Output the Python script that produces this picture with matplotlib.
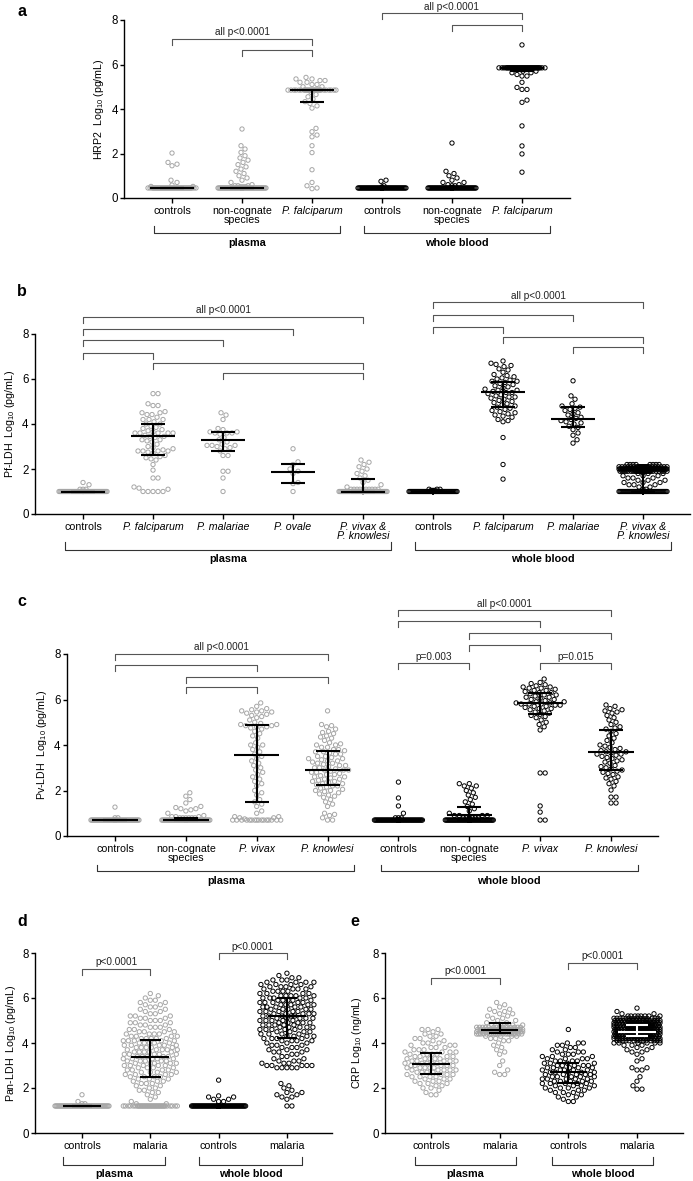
import numpy as np
import matplotlib
matplotlib.use('Agg')
import matplotlib.pyplot as plt

plt.rcParams['font.family'] = ['Liberation Sans', 'DejaVu Sans']
plt.rcParams['mathtext.fontset'] = 'custom'
plt.rcParams['mathtext.rm'] = 'Liberation Sans'
plt.rcParams['mathtext.it'] = 'Liberation Sans:italic'
plt.rcParams['mathtext.bf'] = 'Liberation Sans:bold'

# ---------------------------------------------------------------- data
# each group: levels (log10 values) and counts of points at each level
# ---- panel a : HRP2
a_labels = ['controls', 'non-cognate\nspecies', 'P. falciparum'] * 2
a_pl_ctrl_y = [0.45, 0.52, 0.58, 0.7, 0.8, 1.45, 1.52, 1.6, 2.02]
a_pl_ctrl_n = [45, 2, 1, 1, 1, 1, 1, 1, 1]
a_pl_nc_y = [0.45, 0.5, 0.55, 0.6, 0.7, 0.8, 0.9, 1.0, 1.1, 1.2, 1.3, 1.4, 1.5, 1.6, 1.7, 1.8, 1.9, 2.05, 2.2,
             2.35, 3.1]
a_pl_nc_n = [150, 4, 3, 1, 1, 1, 1, 1, 1, 1, 1, 1, 1, 1, 1, 1, 1, 1, 1, 1, 1]
a_pl_pf_y = [0.42, 0.45, 0.55, 0.7, 1.27, 2.04, 2.35, 2.75, 2.83, 2.98, 3.13, 4.04, 4.14, 4.25, 4.33, 4.45, 4.55,
             4.65, 4.75, 4.85, 5.0, 5.1, 5.2, 5.28, 5.35, 5.42]
a_pl_pf_n = [1, 1, 1, 1, 1, 1, 1, 1, 1, 1, 1, 1, 1, 1, 1, 1, 1, 1, 1, 30, 2, 2, 2, 2, 2, 1]
a_wb_ctrl_y = [0.45, 0.5, 0.55, 0.75, 0.8]
a_wb_ctrl_n = [70, 1, 1, 1, 1]
a_wb_nc_y = [0.45, 0.55, 0.6, 0.7, 0.8, 0.9, 1.0, 1.1, 1.2, 2.47]
a_wb_nc_n = [100, 2, 2, 2, 1, 1, 1, 1, 1, 1]
a_wb_pf_y = [1.16, 1.98, 2.34, 3.24, 4.3, 4.4, 4.88, 4.97, 5.2, 5.48, 5.55, 5.63, 5.7, 5.85, 6.88]
a_wb_pf_n = [1, 1, 1, 1, 1, 1, 2, 1, 1, 2, 1, 2, 2, 40, 1]
a_med = [0.45, 0.45, 4.85, 0.45, 0.45, 5.85]
a_q1 = [0.45, 0.45, 4.33, 0.45, 0.45, 5.70]
a_q3 = [0.45, 0.45, 4.85, 0.45, 0.45, 5.85]

# ---- panel b : Pf-LDH
b_labels = ['controls', 'P. falciparum', 'P. malariae', 'P. ovale', 'P. vivax &\nP. knowlesi',
            'controls', 'P. falciparum', 'P. malariae', 'P. vivax &\nP. knowlesi']
b_pl_ctrl_y = [1.0, 1.1, 1.3, 1.4]
b_pl_ctrl_n = [50, 3, 1, 1]
b_pl_pf = [5.35, 5.35, 4.9, 4.82, 4.82, 4.55, 4.5, 4.5, 4.42, 4.42, 4.3, 4.2, 4.2, 4.2, 4.1, 4.0, 4.0, 3.9, 3.85,
           3.8, 3.75, 3.7, 3.65, 3.6, 3.6, 3.6, 3.6, 3.6, 3.5, 3.45, 3.45, 3.4, 3.3, 3.3, 3.25, 3.2, 3.1, 3.0,
           2.95, 2.9, 2.85, 2.8, 2.8, 2.8, 2.8, 2.75, 2.7, 2.6, 2.55, 2.5, 2.45, 2.4, 2.2, 1.95, 1.6, 1.6, 1.2,
           1.15, 1.1, 1.0, 1.0, 1.0, 1.0, 1.0]
b_pl_pm = [4.5, 4.4, 4.2, 3.8, 3.75, 3.65, 3.65, 3.6, 3.6, 3.6, 3.55, 3.4, 3.3, 3.2, 3.1, 3.05, 3.05, 3.05, 3.0,
           2.95, 2.9, 2.8, 2.6, 2.6, 1.9, 1.9, 1.6, 1.0]
b_pl_po = [2.9, 2.32, 2.2, 2.0, 1.9, 1.8, 1.4, 1.35, 1.0]
b_pl_vk_y = [1.0, 1.1, 1.2, 1.3, 1.4, 1.5, 1.6, 1.7, 1.8, 1.9, 2.0, 2.1, 2.2, 2.3, 2.4]
b_pl_vk_n = [130, 10, 1, 1, 1, 1, 1, 1, 1, 1, 1, 1, 1, 1, 1]
b_wb_ctrl_y = [1.0, 1.05, 1.1]
b_wb_ctrl_n = [80, 3, 3]
b_wb_pf = [6.8, 6.7, 6.65, 6.6, 6.55, 6.45, 6.4, 6.3, 6.2, 6.15, 6.1, 6.05, 6.0, 5.95, 5.9, 5.9, 5.85, 5.8, 5.75,
           5.7, 5.65, 5.6, 5.55, 5.5, 5.5, 5.45, 5.4, 5.4, 5.35, 5.3, 5.25, 5.2, 5.2, 5.15, 5.1, 5.05, 5.0, 4.95,
           4.9, 4.85, 4.8, 4.75, 4.7, 4.65, 4.6, 4.55, 4.5, 4.45, 4.4, 4.35, 4.3, 4.2, 4.15, 4.1, 3.4, 2.2, 1.55]
b_wb_pm = [5.92, 5.25, 5.1, 4.9, 4.8, 4.75, 4.7, 4.65, 4.6, 4.5, 4.45, 4.4, 4.3, 4.25, 4.2, 4.15, 4.1, 4.05, 4.0,
           3.9, 3.85, 3.75, 3.6, 3.5, 3.3, 3.15]
b_wb_vk_y = [1.0, 1.1, 1.2, 1.3, 1.4, 1.5, 1.6, 1.7, 1.8, 1.9, 2.0, 2.1, 2.2]
b_wb_vk_n = [100, 2, 2, 3, 3, 3, 3, 3, 3, 30, 50, 25, 8]
b_med = [1.0, 3.47, 3.28, 1.85, 1.0, 1.0, 5.42, 4.22, 1.95]
b_q1 = [1.0, 2.63, 2.80, 1.38, 1.0, 1.0, 4.75, 3.85, 1.0]
b_q3 = [1.0, 4.00, 3.66, 2.22, 1.55, 1.0, 5.87, 4.75, 2.0]

# ---- panel c : Pv-LDH
c_labels = ['controls', 'non-cognate\nspecies', 'P. vivax', 'P. knowlesi'] * 2
c_pl_ctrl_y = [0.7, 0.8, 1.27]
c_pl_ctrl_n = [60, 2, 1]
c_pl_nc_y = [0.7, 0.8, 0.85, 0.9, 1.0, 1.1, 1.15, 1.2, 1.25, 1.3, 1.45, 1.6, 1.75, 1.9]
c_pl_nc_n = [140, 6, 3, 1, 1, 1, 1, 2, 1, 1, 1, 1, 1, 1]
c_pl_pv = [5.85, 5.7, 5.6, 5.55, 5.5, 5.5, 5.45, 5.45, 5.4, 5.35, 5.3, 5.25, 5.2, 5.1, 5.0, 4.95, 4.9, 4.9, 4.85,
           4.85, 4.8, 4.8, 4.75, 4.7, 4.6, 4.5, 4.4, 4.3, 4.1, 4.0, 4.0, 3.9, 3.8, 3.7, 3.6, 3.5, 3.4, 3.3, 3.2,
           3.1, 3.0, 2.9, 2.8, 2.7, 2.6, 2.5, 2.4, 2.3, 2.2, 2.0, 1.9, 1.8, 1.6, 1.5, 1.4, 1.3, 1.1, 1.0, 0.85,
           0.85, 0.8, 0.8, 0.75, 0.7, 0.7, 0.7, 0.7, 0.7, 0.7, 0.7, 0.7, 0.7, 0.7, 0.7, 0.7, 0.7, 0.7, 0.7, 0.7]
c_pl_pk = [5.5, 4.9, 4.85, 4.8, 4.7, 4.6, 4.55, 4.5, 4.4, 4.35, 4.3, 4.2, 4.1, 4.05, 4.0, 4.0, 3.9, 3.9, 3.8, 3.8,
           3.75, 3.7, 3.7, 3.65, 3.6, 3.6, 3.5, 3.5, 3.45, 3.4, 3.4, 3.35, 3.3, 3.3, 3.25, 3.2, 3.2, 3.15, 3.1,
           3.1, 3.05, 3.0, 3.0, 2.95, 2.9, 2.9, 2.9, 2.85, 2.8, 2.8, 2.75, 2.7, 2.7, 2.65, 2.6, 2.6, 2.55, 2.5,
           2.5, 2.45, 2.4, 2.4, 2.35, 2.3, 2.3, 2.25, 2.2, 2.2, 2.15, 2.1, 2.05, 2.0, 2.0, 1.95, 1.9, 1.85, 1.8,
           1.75, 1.7, 1.6, 1.5, 1.4, 1.3, 1.0, 0.95, 0.9, 0.8, 0.7, 0.7]
c_wb_ctrl_y = [0.7, 0.8, 1.0, 1.32, 1.67, 2.37]
c_wb_ctrl_n = [80, 3, 1, 1, 1, 1]
c_wb_nc_y = [0.7, 0.8, 0.9, 1.0, 1.1, 1.2, 1.3, 1.4, 1.5, 1.6, 1.7, 1.8, 1.9, 2.0, 2.1, 2.2, 2.3]
c_wb_nc_n = [120, 6, 4, 1, 1, 1, 1, 1, 1, 1, 1, 1, 1, 1, 1, 2, 2]
c_wb_pv = [6.9, 6.75, 6.7, 6.65, 6.6, 6.55, 6.55, 6.5, 6.5, 6.45, 6.4, 6.4, 6.35, 6.3, 6.3, 6.25, 6.2, 6.2, 6.15,
           6.1, 6.1, 6.05, 6.0, 6.0, 5.95, 5.9, 5.9, 5.85, 5.85, 5.8, 5.8, 5.8, 5.75, 5.75, 5.7, 5.7, 5.65, 5.6,
           5.6, 5.55, 5.5, 5.45, 5.4, 5.35, 5.3, 5.25, 5.2, 5.1, 5.0, 4.9, 4.8, 4.66, 2.77, 2.77, 1.32, 1.05,
           0.7, 0.7]
c_wb_pk = [5.76, 5.7, 5.6, 5.55, 5.5, 5.45, 5.4, 5.3, 5.2, 5.1, 5.0, 4.9, 4.8, 4.75, 4.7, 4.6, 4.5, 4.4, 4.3, 4.2,
           4.1, 4.0, 3.95, 3.9, 3.85, 3.8, 3.75, 3.7, 3.7, 3.65, 3.6, 3.6, 3.55, 3.5, 3.45, 3.4, 3.35, 3.3, 3.25,
           3.2, 3.1, 3.05, 3.0, 2.95, 2.9, 2.85, 2.8, 2.75, 2.7, 2.6, 2.55, 2.5, 2.4, 2.3, 2.2, 2.02, 1.71, 1.71,
           1.45, 1.45]
c_med = [0.7, 0.7, 3.58, 2.90, 0.7, 0.92, 5.85, 3.69]
c_q1 = [0.7, 0.7, 1.48, 2.25, 0.7, 0.7, 5.36, 2.90]
c_q3 = [0.7, 0.78, 4.90, 3.73, 0.7, 1.27, 6.29, 4.66]

# ---- panel d : Pan-LDH
d_labels = ['controls', 'malaria'] * 2
d_pl_ctrl_y = [1.2, 1.3, 1.4, 1.7]
d_pl_ctrl_n = [60, 2, 1, 1]
d_pl_mal_y = [1.2, 1.3, 1.4, 1.5, 1.6, 1.7, 1.8, 1.9, 2.0, 2.1, 2.2, 2.3, 2.4, 2.5, 2.6, 2.7, 2.8, 2.9, 3.0, 3.1,
              3.2, 3.3, 3.4, 3.5, 3.6, 3.7, 3.8, 3.9, 4.0, 4.1, 4.2, 4.3, 4.4, 4.5, 4.6, 4.7, 4.8, 4.9, 5.0, 5.1,
              5.2, 5.3, 5.4, 5.5, 5.6, 5.7, 5.8, 5.9, 6.0, 6.1, 6.2]
d_pl_mal_n = [40, 2, 1, 1, 1, 1, 2, 2, 2, 2, 3, 3, 3, 4, 4, 4, 4, 4, 5, 5, 5, 5, 5, 5, 5, 5, 5, 5, 5, 5, 5, 4, 4,
              4, 3, 3, 3, 3, 3, 3, 3, 2, 2, 2, 2, 2, 2, 2, 1, 1, 1]
d_wb_ctrl_y = [1.2, 1.4, 1.5, 1.6, 1.65, 2.35]
d_wb_ctrl_n = [100, 2, 2, 2, 1, 1]
d_wb_mal_y = [1.2, 1.5, 1.6, 1.7, 1.8, 1.9, 2.0, 2.1, 2.2, 2.9, 3.0, 3.1, 3.2, 3.3, 3.4, 3.5, 3.6, 3.7, 3.8, 3.9,
              4.0, 4.1, 4.2, 4.3, 4.4, 4.5, 4.6, 4.7, 4.8, 4.9, 5.0, 5.1, 5.2, 5.3, 5.4, 5.5, 5.6, 5.7, 5.8, 5.9,
              6.0, 6.1, 6.2, 6.3, 6.4, 6.5, 6.6, 6.7, 6.8, 6.9, 7.0, 7.1]
d_wb_mal_n = [2, 1, 2, 2, 2, 1, 1, 1, 1, 5, 5, 3, 3, 2, 2, 2, 3, 3, 3, 3, 3, 4, 4, 4, 4, 4, 5, 5, 5, 5, 5, 5, 5,
              5, 5, 5, 5, 5, 5, 5, 5, 5, 4, 4, 4, 4, 4, 4, 3, 2, 1, 1]
d_med = [1.2, 3.37, 1.2, 5.2]
d_q1 = [1.2, 2.5, 1.2, 4.22]
d_q3 = [1.2, 4.14, 1.2, 6.0]

# ---- panel e : CRP
e_labels = ['controls', 'malaria'] * 2
e_pl_ctrl_y = [1.7, 1.8, 1.9, 2.0, 2.1, 2.2, 2.3, 2.4, 2.5, 2.6, 2.7, 2.8, 2.9, 3.0, 3.1, 3.2, 3.3, 3.4, 3.5, 3.6,
               3.7, 3.8, 3.9, 4.0, 4.1, 4.2, 4.3, 4.4, 4.5, 4.6]
e_pl_ctrl_n = [2, 1, 1, 2, 2, 3, 3, 3, 4, 4, 4, 5, 5, 5, 5, 5, 5, 4, 4, 4, 3, 3, 3, 3, 2, 2, 2, 2, 1, 3]
e_pl_mal_y = [2.6, 2.7, 2.8, 3.0, 3.2, 3.5, 3.6, 3.7, 3.8, 3.9, 4.0, 4.1, 4.2, 4.3, 4.4, 4.5, 4.6, 4.7, 4.8, 4.9,
              5.0, 5.1, 5.2, 5.3, 5.4, 5.5, 5.6, 5.7, 5.8]
e_pl_mal_n = [2, 1, 1, 1, 1, 1, 1, 1, 1, 1, 1, 2, 2, 4, 20, 30, 30, 15, 4, 2, 2, 2, 2, 2, 2, 2, 1, 1, 1]
e_wb_ctrl_y = [1.4, 1.5, 1.6, 1.7, 1.8, 1.9, 2.0, 2.1, 2.2, 2.3, 2.4, 2.5, 2.6, 2.7, 2.8, 2.9, 3.0, 3.1, 3.2, 3.3,
               3.4, 3.5, 3.6, 3.7, 3.8, 3.9, 4.0, 4.6]
e_wb_ctrl_n = [2, 1, 2, 2, 3, 3, 4, 4, 5, 5, 5, 5, 5, 5, 5, 5, 5, 4, 4, 4, 3, 3, 3, 2, 2, 2, 3, 1]
e_wb_mal_y = [1.95, 2.1, 2.3, 2.5, 2.8, 2.9, 3.2, 3.3, 3.5, 3.6, 3.7, 3.8, 3.9, 4.0, 4.1, 4.2, 4.3, 4.4, 4.5, 4.6,
              4.7, 4.8, 4.9, 5.0, 5.1, 5.2, 5.3, 5.4, 5.55]
e_wb_mal_n = [2, 1, 1, 1, 2, 2, 1, 1, 1, 2, 2, 2, 3, 6, 14, 20, 25, 30, 30, 30, 28, 25, 22, 18, 14, 8, 2, 1, 1]
e_med = [3.05, 4.60, 2.70, 4.50]
e_q1 = [2.62, 4.45, 2.22, 4.30]
e_q3 = [3.56, 4.89, 3.10, 4.80]

# ---- significance brackets: (group i, group j, height, label)
a_brk = [(0, 2, 7.15, 'all p<0.0001'), (1, 2, 6.65, None), (3, 5, 8.31, 'all p<0.0001'), (4, 5, 7.78, None)]
b_brk = [(0, 4, 8.76, 'all p<0.0001'), (0, 3, 8.22, None), (0, 2, 7.73, None), (0, 1, 7.16, None),
         (1, 4, 6.71, None), (2, 4, 6.27, None),
         (5, 8, 9.42, 'all p<0.0001'), (5, 7, 8.84, None), (5, 6, 8.31, None), (6, 8, 7.87, None),
         (7, 8, 7.42, None)]
c_brk = [(0, 3, 8.0, 'all p<0.0001'), (0, 2, 7.52, None), (1, 3, 6.99, None), (1, 2, 6.55, None),
         (4, 7, 9.93, 'all p<0.0001'), (4, 6, 9.45, None), (5, 7, 8.92, None), (5, 6, 8.40, None),
         (4, 5, 7.6, 'p=0.003'), (6, 7, 7.6, 'p=0.015')]
d_brk = [(0, 1, 7.29, 'p<0.0001'), (2, 3, 8.0, 'p<0.0001')]
e_brk = [(0, 1, 6.89, 'p<0.0001'), (2, 3, 7.56, 'p<0.0001')]

# ---------------------------------------------------------------- drawing
W, H = 693, 1181
fig = plt.figure(figsize=(W / 100, H / 100), dpi=100)
GRAY = '#a6a6a6'
BRK = '#555555'
DIAM = 5.0


def swarm(vals, xs, ys, diam=DIAM, wmax=24.0, step=1.0):
    vals = np.sort(np.asarray(vals, float))
    cand = [0.0]
    k = 1
    while k * step <= wmax:
        cand += [k * step, -k * step]
        k += 1
    cand = np.array(cand)
    px, py = [], []
    offs = np.zeros(len(vals))
    for i, v in enumerate(vals):
        y = v * ys
        x = 0.0
        if px:
            PX = np.array(px)
            PY = np.array(py)
            m = np.abs(PY - y) < diam
            if m.any():
                d2 = (cand[:, None] - PX[m][None, :]) ** 2 + (y - PY[m][None, :]) ** 2
                mind = d2.min(1)
                ok = mind >= diam * diam * 0.98
                x = cand[np.argmax(ok)] if ok.any() else cand[np.argmax(mind)]
        px.append(x)
        py.append(y)
        offs[i] = x / xs
    return vals, offs


def make_axes(l, r, y8, y0, xlim, labels):
    ax = fig.add_axes([l / W, 1 - y0 / H, (r - l) / W, (y0 - y8) / H])
    ax.set_xlim(*xlim)
    ax.set_ylim(0, 8)
    ax.patch.set_alpha(0)
    for s in ['top', 'right']:
        ax.spines[s].set_visible(False)
    for s in ['left', 'bottom']:
        ax.spines[s].set_linewidth(1.0)
    ax.set_yticks([0, 2, 4, 6, 8])
    ax.tick_params(axis='y', length=3, width=1.0, pad=1.5, labelsize=8.3)
    ax.tick_params(axis='x', length=3.5, width=1.0, pad=2, labelsize=7.7)
    ax.set_xticks(range(len(labels)))
    ax.set_xticklabels(labels)
    for t in ax.get_xticklabels():
        t.set_linespacing(0.95)
        if t.get_text().startswith('P.'):
            t.set_fontstyle('italic')
    xs = (r - l) / (xlim[1] - xlim[0])
    ys = (y0 - y8) / 8.0
    return ax, xs, ys


def group(ax, xs, ys, pos, yl, n, color, med, q1, q3, mcol='black', mw=0.32, cw=0.17, wmax=24.0):
    vals = np.repeat(np.asarray(yl, float), np.asarray(n, int))
    v, off = swarm(vals, xs, ys, wmax=wmax)
    ax.scatter(pos + off, v, s=9.5, facecolors='none', edgecolors=color, linewidths=0.7,
               clip_on=False, zorder=2)
    kw = dict(color=mcol, lw=1.5, zorder=4, solid_capstyle='butt', clip_on=False)
    ax.plot([pos - mw, pos + mw], [med, med], **kw)
    ax.plot([pos, pos], [q1, q3], **kw)
    ax.plot([pos - cw, pos + cw], [q1, q1], **kw)
    ax.plot([pos - cw, pos + cw], [q3, q3], **kw)


def brackets(ax, ys, brk):
    t = 6.0 / ys
    for i, j, h, lab in brk:
        ax.plot([i, i, j, j], [h - t, h, h, h - t], color=BRK, lw=0.8, clip_on=False, zorder=3)
        if lab:
            ax.text((i + j) / 2, h + 1.5 / ys, lab, ha='center', va='bottom', fontsize=7.2,
                    color='#222222', clip_on=False)


def group_brackets(ax, ys, spans, names, lo=-0.26, hi=0.40, ytop=28, ybar=35, ylab=45):
    for (i, j), nm in zip(spans, names):
        x1, x2 = i + lo, j + hi
        ax.plot([x1, x1, x2, x2], [-ytop / ys, -ybar / ys, -ybar / ys, -ytop / ys], color='#333333',
                lw=0.8, clip_on=False)
        ax.text((x1 + x2) / 2, -ylab / ys, nm, ha='center', va='center', fontsize=7.8,
                fontweight='bold', clip_on=False)


def ylabel(ax, txt, l, xc):
    ax.set_ylabel(txt, fontsize=7.7)
    w = ax.get_position().width * W
    ax.yaxis.set_label_coords((xc + 5 - l) / w, 0.5)


def letter(x, y, s):
    fig.text(x / W, 1 - y / H, s, fontsize=11.5, fontweight='bold', ha='center', va='center')


ones = lambda v: [1] * len(v)

# ---- a
ax, xs, ys = make_axes(124, 570, 20, 198, (-0.686, 5.686), a_labels)
grp = [(a_pl_ctrl_y, a_pl_ctrl_n, GRAY), (a_pl_nc_y, a_pl_nc_n, GRAY), (a_pl_pf_y, a_pl_pf_n, GRAY),
       (a_wb_ctrl_y, a_wb_ctrl_n, 'black'), (a_wb_nc_y, a_wb_nc_n, 'black'), (a_wb_pf_y, a_wb_pf_n, 'black')]
for k, (yl, n, c) in enumerate(grp):
    group(ax, xs, ys, k, yl, n, c, a_med[k], a_q1[k], a_q3[k])
brackets(ax, ys, a_brk)
group_brackets(ax, ys, [(0, 2), (3, 5)], ['plasma', 'whole blood'])
ylabel(ax, 'HRP2  Log$_{10}$ (pg/mL)', 124, 101)
letter(22, 12, 'a')

# ---- b
ax, xs, ys = make_axes(35, 690, 334, 514, (-0.686, 8.671), b_labels)
grp = [(b_pl_ctrl_y, b_pl_ctrl_n, GRAY), (b_pl_pf, ones(b_pl_pf), GRAY), (b_pl_pm, ones(b_pl_pm), GRAY),
       (b_pl_po, ones(b_pl_po), GRAY), (b_pl_vk_y, b_pl_vk_n, GRAY),
       (b_wb_ctrl_y, b_wb_ctrl_n, 'black'), (b_wb_pf, ones(b_wb_pf), 'black'),
       (b_wb_pm, ones(b_wb_pm), 'black'), (b_wb_vk_y, b_wb_vk_n, 'black')]
for k, (yl, n, c) in enumerate(grp):
    group(ax, xs, ys, k, yl, n, c, b_med[k], b_q1[k], b_q3[k])
brackets(ax, ys, b_brk)
group_brackets(ax, ys, [(0, 4), (5, 8)], ['plasma', 'whole blood'], ytop=28, ybar=36, ylab=45)
ylabel(ax, 'Pf-LDH  Log$_{10}$ (pg/mL)', 35, 12)
letter(22, 292, 'b')

# ---- c
ax, xs, ys = make_axes(67, 658, 654, 836, (-0.677, 7.663), c_labels)
grp = [(c_pl_ctrl_y, c_pl_ctrl_n, GRAY), (c_pl_nc_y, c_pl_nc_n, GRAY), (c_pl_pv, ones(c_pl_pv), GRAY),
       (c_pl_pk, ones(c_pl_pk), GRAY),
       (c_wb_ctrl_y, c_wb_ctrl_n, 'black'), (c_wb_nc_y, c_wb_nc_n, 'black'), (c_wb_pv, ones(c_wb_pv), 'black'),
       (c_wb_pk, ones(c_wb_pk), 'black')]
for k, (yl, n, c) in enumerate(grp):
    group(ax, xs, ys, k, yl, n, c, c_med[k], c_q1[k], c_q3[k])
brackets(ax, ys, c_brk)
group_brackets(ax, ys, [(0, 3), (4, 7)], ['plasma', 'whole blood'], lo=-0.25, hi=0.38, ytop=29, ybar=35, ylab=45)
ylabel(ax, 'Pv-LDH  Log$_{10}$ (pg/mL)', 67, 44)
letter(22, 602, 'c')

# ---- d
ax, xs, ys = make_axes(35, 332, 953, 1133, (-0.688, 3.66), d_labels)
grp = [(d_pl_ctrl_y, d_pl_ctrl_n, GRAY), (d_pl_mal_y, d_pl_mal_n, GRAY),
       (d_wb_ctrl_y, d_wb_ctrl_n, 'black'), (d_wb_mal_y, d_wb_mal_n, 'black')]
for k, (yl, n, c) in enumerate(grp):
    group(ax, xs, ys, k, yl, n, c, d_med[k], d_q1[k], d_q3[k], mw=0.28, cw=0.15, wmax=27)
brackets(ax, ys, d_brk)
group_brackets(ax, ys, [(0, 1), (2, 3)], ['plasma', 'whole blood'], lo=-0.28, hi=0.22, ytop=24, ybar=32, ylab=41)
ylabel(ax, 'Pan-LDH  Log$_{10}$ (pg/mL)', 35, 13)
letter(22, 922, 'd')

# ---- e
ax, xs, ys = make_axes(385, 683, 953, 1133, (-0.67, 3.67), e_labels)
grp = [(e_pl_ctrl_y, e_pl_ctrl_n, GRAY), (e_pl_mal_y, e_pl_mal_n, GRAY),
       (e_wb_ctrl_y, e_wb_ctrl_n, 'black'), (e_wb_mal_y, e_wb_mal_n, 'black')]
for k, (yl, n, c) in enumerate(grp):
    group(ax, xs, ys, k, yl, n, c, e_med[k], e_q1[k], e_q3[k], mcol='white' if k == 3 else 'black',
          mw=0.27, cw=0.16, wmax=26 if k in (0, 2) else 23)
brackets(ax, ys, e_brk)
group_brackets(ax, ys, [(0, 1), (2, 3)], ['plasma', 'whole blood'], lo=-0.24, hi=0.24, ytop=24, ybar=32, ylab=41)
ylabel(ax, 'CRP Log$_{10}$ (ng/mL)', 385, 359)
letter(355, 922, 'e')

fig.savefig('out.png', dpi=100)
